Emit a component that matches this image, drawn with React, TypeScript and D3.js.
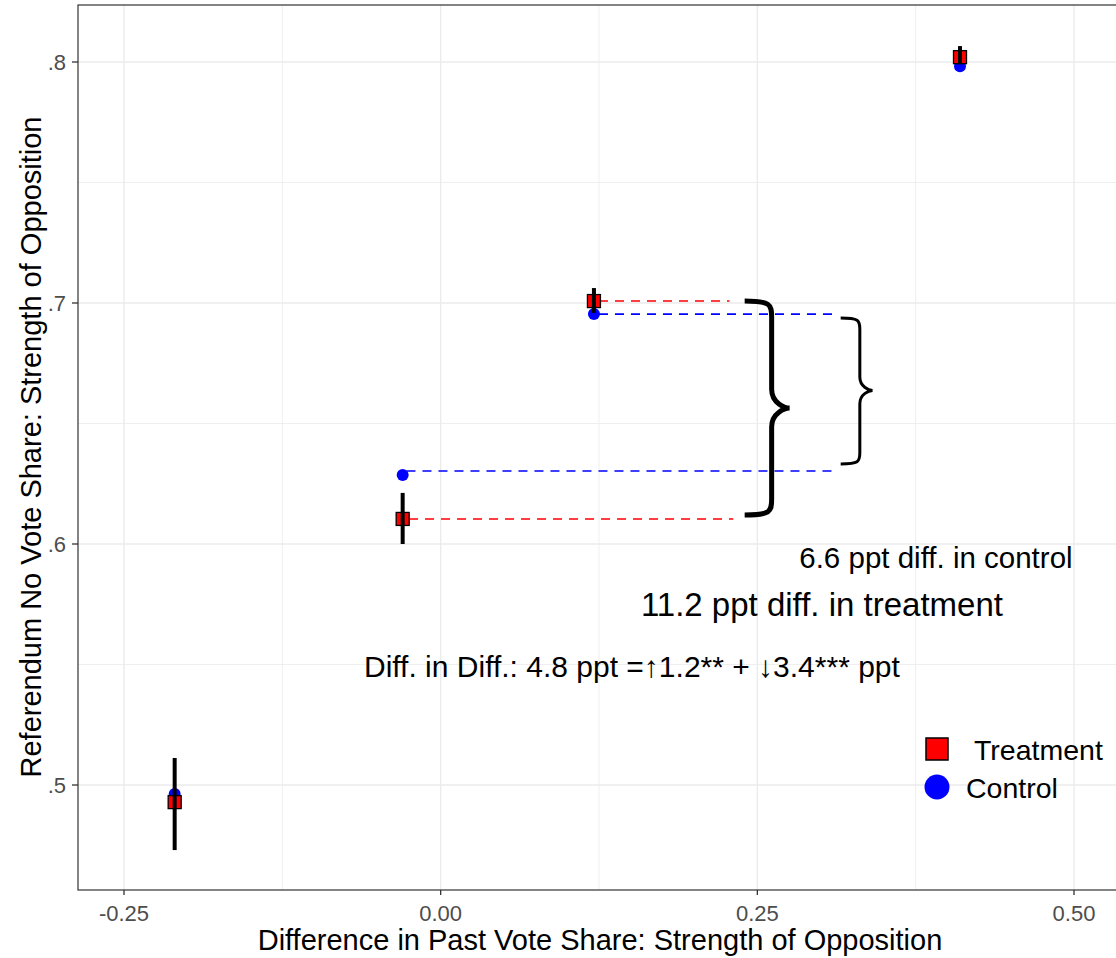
import React from "react";
import * as d3 from "d3";

const W = 1116;
const H = 958;

// data
const xVals = [-0.21, -0.03, 0.121, 0.41];
const treatY = [0.4929, 0.6104, 0.7008, 0.802];
const controlY = [0.4963, 0.6286, 0.6954, 0.7982];
const treatLo = [0.473, 0.6, 0.6959, 0.7996];
const treatHi = [0.5112, 0.6212, 0.7062, 0.8066];

const xTicks = [-0.25, 0, 0.25, 0.5];
const xTickLabels = ["-0.25", "0.00", "0.25", "0.50"];
const yTicks = [0.5, 0.6, 0.7, 0.8];
const yTickLabels = [".5", ".6", ".7", ".8"];

// dashed reference segments: [x1, x2, y, colour]
const segX1 = [0.125, 0.125, -0.027, -0.025];
const segX2 = [0.228, 0.311, 0.312, 0.231];
const segY = [0.7008, 0.6954, 0.6303, 0.6104];
const segColor = ["red", "blue", "blue", "red"];

// braces: x start, x tip, y top, y bottom
const braceX0 = [0.24, 0.3158];
const braceX1 = [0.2755, 0.341];
const braceYTop = [0.7008, 0.6938];
const braceYBot = [0.612, 0.6332];
const braceWidth = [5, 3];

const annText = [
  "6.6 ppt diff. in control",
  "11.2 ppt diff. in treatment",
  "Diff. in Diff.: 4.8 ppt =\u21911.2** + \u21933.4*** ppt",
];
const annX = [0.391, 0.301, 0.151];
const annY = [0.5945, 0.575, 0.5493];
const annSize = [29.5, 33, 30];

const FONT = "'Liberation Sans', Arial, Helvetica, sans-serif";

export default function App() {
  const left = 78;
  const top = 5;
  const right = 1120;
  const bottom = 890;

  const x = d3.scaleLinear().domain([-0.25, 0.5]).range([124, 1074]);
  const y = d3.scaleLinear().domain([0.5, 0.8]).range([785, 62]);

  const xMinor = [-0.125, 0.125, 0.375];
  const yMinor = [0.55, 0.65, 0.75];

  const bracePath = (i: number) => {
    const x0 = x(braceX0[i]);
    const x1 = x(braceX1[i]);
    const y0 = y(braceYTop[i]);
    const y1 = y(braceYBot[i]);
    const ym = (y0 + y1) / 2 + (i === 0 ? 0 : -0.5);
    const w = x1 - x0;
    const xv = x0 + w * 0.6;
    const r = w * 0.35;
    const p = d3.path();
    p.moveTo(x0, y0);
    p.bezierCurveTo(xv - r * 0.1, y0, xv, y0 + r * 0.2, xv, y0 + r);
    p.lineTo(xv, ym - r * 1.2);
    p.bezierCurveTo(xv, ym - r * 0.3, x1 - w * 0.1, ym, x1, ym);
    p.bezierCurveTo(x1 - w * 0.1, ym, xv, ym + r * 0.3, xv, ym + r * 1.2);
    p.lineTo(xv, y1 - r);
    p.bezierCurveTo(xv, y1 - r * 0.2, xv - r * 0.1, y1, x0, y1);
    return p.toString();
  };

  const sq = 13;
  return (
    <svg width={W} height={H} style={{ display: "block", position: "absolute", left: 0, top: 0 }} fontFamily={FONT}>
      <rect x={0} y={0} width={W} height={H} fill="white" />
      <defs>
        <clipPath id="panel">
          <rect x={left} y={top} width={right - left} height={bottom - top} />
        </clipPath>
      </defs>
      {/* grid */}
      <g clipPath="url(#panel)">
        {xMinor.map((v) => (
          <line key={"xm" + v} x1={x(v)} x2={x(v)} y1={top} y2={bottom} stroke="#ebebeb" strokeWidth={0.8} />
        ))}
        {yMinor.map((v) => (
          <line key={"ym" + v} x1={left} x2={right} y1={y(v)} y2={y(v)} stroke="#ebebeb" strokeWidth={0.8} />
        ))}
        {xTicks.map((v) => (
          <line key={"xg" + v} x1={x(v)} x2={x(v)} y1={top} y2={bottom} stroke="#ebebeb" strokeWidth={1.4} />
        ))}
        {yTicks.map((v) => (
          <line key={"yg" + v} x1={left} x2={right} y1={y(v)} y2={y(v)} stroke="#ebebeb" strokeWidth={1.4} />
        ))}

        {/* dashed segments */}
        {segY.map((v, i) => (
          <line
            key={"seg" + i}
            x1={x(segX1[i])}
            x2={x(segX2[i])}
            y1={y(v)}
            y2={y(v)}
            stroke={segColor[i]}
            strokeWidth={1.6}
            strokeDasharray="9,7"
          />
        ))}

        {/* braces */}
        {braceX0.map((_, i) => (
          <path key={"br" + i} d={bracePath(i)} fill="none" stroke="black" strokeWidth={braceWidth[i]} />
        ))}

        {/* points */}
        {xVals.map((v, i) => (
          <circle key={"c" + i} cx={x(v)} cy={y(controlY[i])} r={6} fill="blue" />
        ))}
        {xVals.map((v, i) => (
          <rect
            key={"t" + i}
            x={x(v) - sq / 2}
            y={y(treatY[i]) - sq / 2}
            width={sq}
            height={sq}
            fill="red"
            stroke="black"
            strokeWidth={1.3}
          />
        ))}
        {xVals.map((v, i) => (
          <line key={"e" + i} x1={x(v)} x2={x(v)} y1={y(treatLo[i])} y2={y(treatHi[i])} stroke="black" strokeWidth={4} />
        ))}

        {/* annotations */}
        {annText.map((t, i) => (
          <text key={"a" + i} x={x(annX[i])} y={y(annY[i])} fontSize={annSize[i]} textAnchor="middle" dominantBaseline="central" fill="black">
            {t}
          </text>
        ))}

        {/* legend */}
        <rect x={926} y={738} width={22} height={22} fill="red" stroke="black" strokeWidth={1.5} />
        <text x={974} y={750} fontSize={28.5} dominantBaseline="central" fill="black">Treatment</text>
        <circle cx={937} cy={787} r={12.5} fill="blue" />
        <text x={966} y={788} fontSize={28.5} dominantBaseline="central" fill="black">Control</text>
      </g>

      {/* panel border */}
      <rect x={left} y={top} width={right - left} height={bottom - top} fill="none" stroke="#333333" strokeWidth={1.2} />

      {/* x axis ticks */}
      {xTicks.map((v, i) => (
        <g key={"xt" + v}>
          <line x1={x(v)} x2={x(v)} y1={bottom} y2={bottom + 5} stroke="#333333" strokeWidth={1.3} />
          <text x={x(v)} y={bottom + 23} fontSize={22} textAnchor="middle" fill="#4d4d4d" dominantBaseline="central">
            {xTickLabels[i]}
          </text>
        </g>
      ))}
      {yTicks.map((v, i) => (
        <g key={"yt" + v}>
          <line x1={left - 6} x2={left} y1={y(v)} y2={y(v)} stroke="#333333" strokeWidth={1.3} />
          <text x={left - 12} y={y(v)} fontSize={22} textAnchor="end" fill="#4d4d4d" dominantBaseline="central">
            {yTickLabels[i]}
          </text>
        </g>
      ))}

      <text x={600} y={940} fontSize={29} textAnchor="middle" dominantBaseline="central" fill="black">
        Difference in Past Vote Share: Strength of Opposition
      </text>
      <text
        transform={`translate(31, 447) rotate(-90)`}
        fontSize={29}
        textAnchor="middle"
        dominantBaseline="central"
        fill="black"
      >
        Referendum No Vote Share: Strength of Opposition
      </text>
    </svg>
  );
}
